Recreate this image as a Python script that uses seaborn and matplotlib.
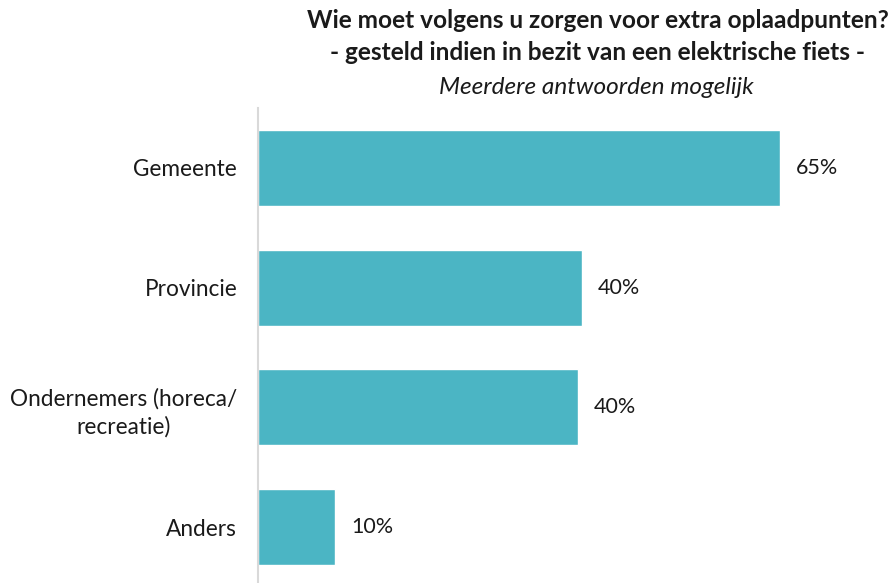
import matplotlib
matplotlib.use("Agg")
import matplotlib.pyplot as plt
import seaborn as sns
import pandas as pd

# data
categories = ["Gemeente", "Provincie", "Ondernemers (horeca/\nrecreatie)", "Anders"]
values = [65.0, 40.3, 39.8, 9.6]
labels = ["65%", "40%", "40%", "10%"]

df = pd.DataFrame({"categorie": categories, "pct": values})

sns.set_style("white")
plt.rcParams["font.family"] = ["Lato", "DejaVu Sans"]

fig = plt.figure(figsize=(8.95, 5.83), dpi=100)
ax = fig.add_axes([258 / 895, -4 / 583, (877 - 258) / 895, (587 - 108) / 583])

sns.barplot(data=df, x="pct", y="categorie", orient="h", color="#4BB5C4",
            saturation=1, width=0.633, ax=ax)

ax.set_xlim(0, 619 / 8.03)
ax.set_ylim(3.5, -0.5)

# value labels
for i, (v, lab) in enumerate(zip(values, labels)):
    ax.text(v + 2.0, i, lab, va="center", ha="left", fontsize=15.5, color="#1a1a1a")

ax.set_xlabel("")
ax.set_ylabel("")
ax.set_xticks([])
ax.tick_params(axis="y", length=0, pad=15, labelsize=16.3, labelcolor="#1a1a1a")
for t in ax.get_yticklabels():
    t.set_multialignment("center")
    t.set_linespacing(1.4)

for s in ["top", "right", "bottom"]:
    ax.spines[s].set_visible(False)
ax.spines["left"].set_color("#D9D9D9")
ax.spines["left"].set_linewidth(1.5)

# title block
fig.text(598 / 895, 1 - 20 / 583, "Wie moet volgens u zorgen voor extra oplaadpunten?",
         ha="center", va="center", fontsize=17.6, fontweight="bold", color="#1a1a1a")
fig.text(598 / 895, 1 - 53 / 583, "- gesteld indien in bezit van een elektrische fiets -",
         ha="center", va="center", fontsize=17.6, fontweight="bold", color="#1a1a1a")
fig.text(596 / 895, 1 - 87 / 583, "Meerdere antwoorden mogelijk",
         ha="center", va="center", fontsize=17.6, fontstyle="italic", color="#1a1a1a")

fig.savefig("out.png", dpi=100)
